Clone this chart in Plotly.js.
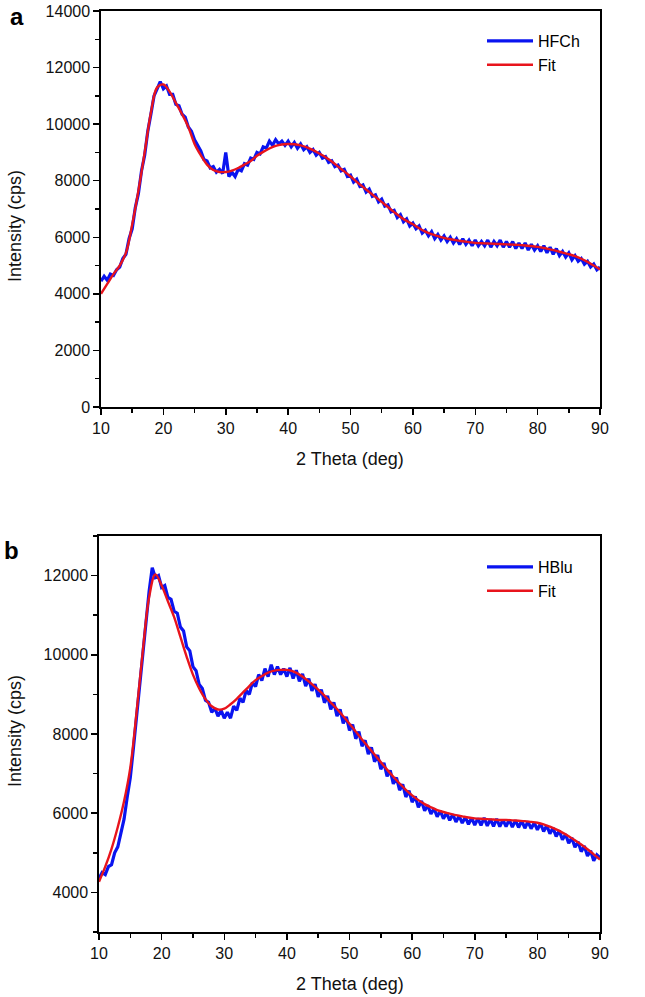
<!DOCTYPE html>
<html>
<head>
<meta charset="utf-8">
<script src="https://cdn.plot.ly/plotly-3.0.1.min.js"></script>
<style>html,body{margin:0;padding:0;background:#fff;}#chart{width:645px;height:997px;}</style>
</head>
<body>
<div id="chart"></div>
<script>
// ---------- Data ----------
// Measured patterns, 2-theta 10..90 step 0.5 deg
const thetaData = [10,10.5,11,11.5,12,12.5,13,13.5,14,14.5,15,15.5,16,16.5,17,17.5,18,18.5,19,19.5,20,20.5,21,21.5,22,22.5,23,23.5,24,24.5,25,25.5,26,26.5,27,27.5,28,28.5,29,29.5,30,30.5,31,31.5,32,32.5,33,33.5,34,34.5,35,35.5,36,36.5,37,37.5,38,38.5,39,39.5,40,40.5,41,41.5,42,42.5,43,43.5,44,44.5,45,45.5,46,46.5,47,47.5,48,48.5,49,49.5,50,50.5,51,51.5,52,52.5,53,53.5,54,54.5,55,55.5,56,56.5,57,57.5,58,58.5,59,59.5,60,60.5,61,61.5,62,62.5,63,63.5,64,64.5,65,65.5,66,66.5,67,67.5,68,68.5,69,69.5,70,70.5,71,71.5,72,72.5,73,73.5,74,74.5,75,75.5,76,76.5,77,77.5,78,78.5,79,79.5,80,80.5,81,81.5,82,82.5,83,83.5,84,84.5,85,85.5,86,86.5,87,87.5,88,88.5,89,89.5,90];
// Panel a: HFCh
const hfchData = [4450,4620,4480,4700,4650,4850,4950,5250,5400,5950,6300,7050,7550,8350,8900,9750,10350,11000,11250,11500,11250,11350,11050,11050,10700,10650,10350,10250,9900,9750,9450,9250,9050,8750,8700,8450,8500,8300,8400,8250,9000,8150,8300,8150,8400,8350,8600,8550,8800,8750,9000,8950,9200,9150,9400,9250,9450,9300,9400,9250,9400,9200,9350,9150,9300,9100,9200,9000,9100,8900,9000,8800,8850,8650,8700,8500,8550,8350,8400,8150,8200,7950,8050,7800,7850,7600,7700,7450,7500,7250,7350,7100,7150,6900,6950,6700,6800,6550,6650,6400,6500,6300,6400,6150,6250,6050,6200,5950,6100,5900,6050,5850,6000,5800,5950,5750,5950,5750,5900,5700,5900,5700,5850,5700,5900,5650,5850,5700,5900,5650,5850,5650,5850,5600,5800,5600,5800,5550,5750,5550,5700,5500,5700,5450,5650,5400,5600,5350,5500,5300,5450,5200,5350,5150,5250,5050,5150,4950,5050,4850,4950];
// Panel b: HBlu
const hbluData = [4350,4500,4450,4650,4700,5000,5150,5550,5850,6400,6900,7650,8450,9300,10100,10950,11600,12200,11950,12000,11700,11750,11450,11400,11100,11050,10700,10600,10200,10100,9700,9600,9250,9150,8850,8800,8550,8650,8450,8600,8400,8550,8400,8700,8600,8900,8800,9100,9000,9300,9200,9500,9350,9650,9450,9750,9500,9700,9500,9650,9450,9670,9400,9610,9330,9520,9210,9400,9090,9260,8940,9120,8790,8960,8620,8800,8450,8620,8270,8430,8090,8240,7880,8060,7690,7840,7490,7660,7300,7470,7110,7270,6930,7080,6740,6900,6580,6730,6410,6570,6280,6420,6150,6310,6060,6200,5980,6120,5910,6060,5860,6010,5820,5970,5780,5930,5750,5900,5720,5880,5700,5870,5690,5880,5680,5850,5670,5860,5660,5830,5660,5840,5650,5820,5640,5810,5620,5790,5610,5760,5580,5740,5540,5690,5480,5630,5410,5560,5330,5470,5240,5380,5140,5280,5030,5170,4920,5050,4800,4950,4880];

// Fits, 2-theta 10..90 step 1 deg
const thetaFit = [10,11,12,13,14,15,16,17,18,19,20,21,22,23,24,25,26,27,28,29,30,31,32,33,34,35,36,37,38,39,40,41,42,43,44,45,46,47,48,49,50,51,52,53,54,55,56,57,58,59,60,61,62,63,64,65,66,67,68,69,70,71,72,73,74,75,76,77,78,79,80,81,82,83,84,85,86,87,88,89,90];
const hfchFit = [4000,4350,4700,5000,5450,6450,7650,9000,10400,11300,11400,11150,10750,10350,9900,9300,8900,8570,8380,8310,8310,8360,8450,8570,8700,8880,9020,9140,9230,9280,9300,9290,9250,9180,9080,8960,8830,8680,8500,8330,8150,7960,7780,7600,7430,7250,7070,6890,6720,6580,6460,6320,6200,6110,6040,5980,5930,5890,5860,5830,5800,5790,5780,5770,5760,5750,5740,5730,5710,5690,5660,5620,5570,5520,5460,5400,5330,5240,5130,5000,4860];
const hbluFit = [4270,4650,5100,5650,6300,7150,8550,10100,11450,12030,11750,11350,10950,10450,9950,9500,9150,8880,8700,8620,8640,8750,8890,9050,9210,9360,9460,9550,9600,9620,9620,9580,9500,9390,9260,9120,8970,8800,8630,8450,8260,8060,7860,7670,7480,7290,7100,6920,6750,6590,6450,6330,6230,6150,6080,6030,5990,5950,5920,5890,5870,5860,5850,5840,5830,5830,5820,5810,5800,5780,5760,5720,5660,5590,5510,5420,5320,5210,5090,4960,4830];

const xTitle = '2 Theta (deg)';
const yTitle = 'Intensity (cps)';

// ---------- Figure ----------
const W = 645, H = 997;
const px = v => v / W;          // pixel -> paper x
const py = v => 1 - v / H;      // pixel -> paper y
const FONT = 'Liberation Sans, Arial, sans-serif';
const BLUE = '#0a14f0', RED = '#e8141c';

const traces = [
  {x: thetaData, y: hfchData, name: 'HFCh', type: 'scatter', mode: 'lines',
   line: {color: BLUE, width: 3.2}, xaxis: 'x', yaxis: 'y', legend: 'legend'},
  {x: thetaFit, y: hfchFit, name: 'Fit', type: 'scatter', mode: 'lines',
   line: {color: RED, width: 2.4, shape: 'spline', smoothing: 1}, xaxis: 'x', yaxis: 'y', legend: 'legend'},
  {x: thetaData, y: hbluData, name: 'HBlu', type: 'scatter', mode: 'lines',
   line: {color: BLUE, width: 3.2}, xaxis: 'x2', yaxis: 'y2', legend: 'legend2'},
  {x: thetaFit, y: hbluFit, name: 'Fit', type: 'scatter', mode: 'lines',
   line: {color: RED, width: 2.4, shape: 'spline', smoothing: 1}, xaxis: 'x2', yaxis: 'y2', legend: 'legend2'}
];

function xax(domain, anchor) {
  return {domain: domain, anchor: anchor, range: [10, 90], dtick: 10, tick0: 0,
    ticks: 'outside', ticklen: 6, tickwidth: 1.5, tickcolor: '#000',
    minor: {dtick: 5, ticks: 'outside', ticklen: 4, tickwidth: 1.5, tickcolor: '#000'},
    showline: true, linecolor: '#000', linewidth: 1.7, mirror: true,
    showgrid: false, zeroline: false,
    tickfont: {family: FONT, size: 16, color: '#111'}};
}
function yax(domain, anchor, range) {
  return {domain: domain, anchor: anchor, range: range, dtick: 2000, tick0: 0, tickformat: 'd',
    ticks: 'outside', ticklen: 6, tickwidth: 1.5, tickcolor: '#000',
    minor: {dtick: 1000, ticks: 'outside', ticklen: 4, tickwidth: 1.5, tickcolor: '#000'},
    showline: true, linecolor: '#000', linewidth: 1.7, mirror: true,
    showgrid: false, zeroline: false,
    tickfont: {family: FONT, size: 16, color: '#111'}};
}

const legendBase = {xanchor: 'left', yanchor: 'top', bgcolor: 'rgba(0,0,0,0)', borderwidth: 0,
  itemwidth: 46, font: {family: FONT, size: 16, color: '#000'}};

function ann(text, x, y, size, extra) {
  return Object.assign({text: text, x: px(x), y: py(y), xref: 'paper', yref: 'paper',
    xanchor: 'center', yanchor: 'middle', showarrow: false,
    font: {family: FONT, size: size, color: '#111'}}, extra || {});
}

const layout = {
  width: W, height: H,
  margin: {l: 0, r: 0, t: 0, b: 0},
  paper_bgcolor: '#fff', plot_bgcolor: '#fff',
  showlegend: true,
  xaxis: xax([px(101), px(600)], 'y'),
  yaxis: yax([py(407), py(11)], 'x', [0, 14000]),
  xaxis2: xax([px(99), px(600)], 'y2'),
  yaxis2: yax([py(932), py(536)], 'x2', [3000, 13000]),
  legend: Object.assign({x: px(482), y: py(24)}, legendBase),
  legend2: Object.assign({x: px(482), y: py(550)}, legendBase),
  annotations: [
    ann('<b>a</b>', 17, 1, 24, {yanchor: 'top', font: {family: FONT, size: 24, color: '#000'}}),
    ann('<b>b</b>', 11, 550, 24, {font: {family: FONT, size: 24, color: '#000'}}),
    ann(yTitle, 15, 226, 18, {textangle: -90}),
    ann(yTitle, 15, 731, 18, {textangle: -90}),
    ann(xTitle, 350, 459, 18),
    ann(xTitle, 350, 984, 18)
  ]
};

Plotly.newPlot('chart', traces, layout, {staticPlot: true, displayModeBar: false});
</script>
</body>
</html>
